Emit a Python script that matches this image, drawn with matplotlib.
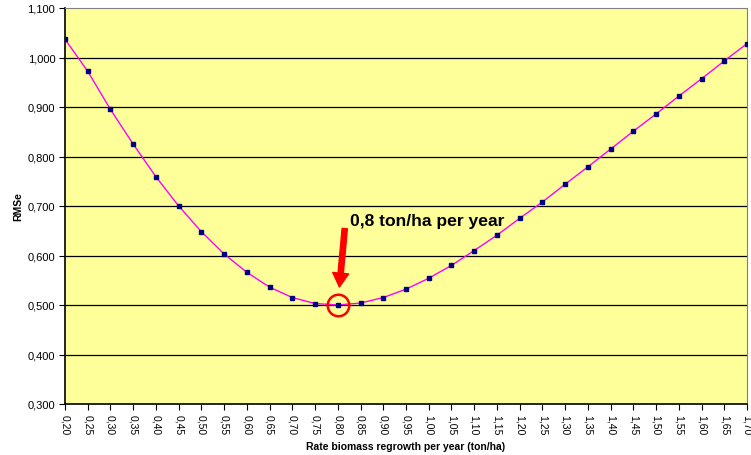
import matplotlib.pyplot as plt

# Data
rates = [0.20, 0.25, 0.30, 0.35, 0.40, 0.45, 0.50, 0.55, 0.60, 0.65,
         0.70, 0.75, 0.80, 0.85, 0.90, 0.95, 1.00, 1.05, 1.10, 1.15,
         1.20, 1.25, 1.30, 1.35, 1.40, 1.45, 1.50, 1.55, 1.60, 1.65, 1.70]
rmse = [1.037, 0.972, 0.895, 0.825, 0.759, 0.700, 0.648, 0.603, 0.566, 0.536,
        0.515, 0.503, 0.500, 0.504, 0.515, 0.532, 0.554, 0.580, 0.610, 0.641,
        0.675, 0.708, 0.744, 0.779, 0.815, 0.851, 0.886, 0.922, 0.957, 0.993,
        1.028]
y_ticks = [0.3, 0.4, 0.5, 0.6, 0.7, 0.8, 0.9, 1.0, 1.1]
best_rate = 0.80
note = "0,8 ton/ha per year"


def comma(v, digits):
    return f"{v:.{digits}f}".replace(".", ",")


def main():
    plt.rcParams['font.family'] = ['Liberation Sans', 'DejaVu Sans']
    fig = plt.figure(figsize=(7.51, 4.56), dpi=100)
    ax = fig.add_axes([65 / 751, 51 / 456, 682 / 751, 396 / 456])
    ax.set_facecolor('#FFFF99')

    # horizontal grid
    for v in y_ticks[1:-1]:
        ax.axhline(v, color='black', lw=0.9, zorder=1)

    ax.plot(rates, rmse, color='#FF00FF', lw=1, zorder=3)
    ax.plot(rates, rmse, ls='none', marker='s', ms=3.2,
            color='#000080', zorder=4)

    ax.set_xlim(rates[0], rates[-1])
    ax.set_ylim(y_ticks[0], y_ticks[-1])
    ax.set_xticks(rates)
    ax.set_xticklabels([comma(r, 2) for r in rates], rotation=-90,
                       fontsize=7.5)
    ax.set_yticks(y_ticks)
    ax.set_yticklabels([comma(v, 3) for v in y_ticks], fontsize=8)
    ax.tick_params(axis='both', length=4, width=0.8, color='black')
    ax.tick_params(axis='x', pad=3)
    ax.tick_params(axis='y', pad=3)

    for side in ['top', 'right']:
        ax.spines[side].set_color('#808080')
    for side in ['left', 'bottom']:
        ax.spines[side].set_color('black')
        ax.spines[side].set_linewidth(1.2)

    ax.set_xlabel("Rate biomass regrowth per year (ton/ha)",
                  fontsize=7.5, fontweight='bold', labelpad=5)
    ax.set_ylabel("RMSe", fontsize=7.5, fontweight='bold', labelpad=3)

    # highlight the minimum
    best_y = rmse[rates.index(best_rate)]
    ax.plot([best_rate], [best_y], ls='none', marker='o', ms=15.5,
            mfc='none', mec='red', mew=1.8, zorder=5)
    ax.annotate('', xy=(best_rate, best_y), xytext=(5, 55),
                textcoords='offset points',
                arrowprops=dict(arrowstyle='simple,head_width=1.15,'
                                'head_length=1.0,tail_width=0.38',
                                mutation_scale=10, color='red',
                                shrinkA=0, shrinkB=13), zorder=6)
    ax.annotate(note, xy=(best_rate, best_y), xytext=(8.5, 60.5),
                textcoords='offset points', ha='left', va='center',
                fontsize=12.6, fontweight='bold')

    fig.savefig('out.png', dpi=100)


if __name__ == "__main__":
    main()
